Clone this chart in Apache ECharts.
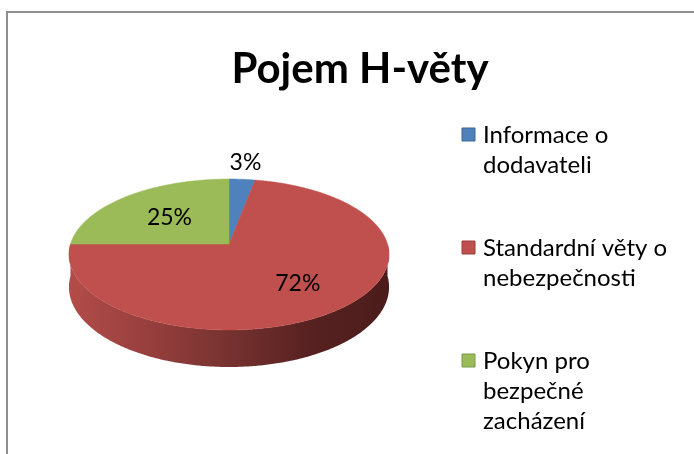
<!DOCTYPE html>
<html>
<head>
<meta charset="utf-8">
<script src="https://cdn.jsdelivr.net/npm/echarts@6/dist/echarts.min.js"></script>
<style>
  html, body { margin: 0; padding: 0; background: #fff; }
  #chart { width: 694px; height: 454px; }
</style>
</head>
<body>
<div id="chart"></div>
<script>
// data
const categories = ['Informace o\ndodavateli', 'Standardní věty o\nnebezpečnosti', 'Pokyn pro\nbezpečné\nzacházení']
const values = [3, 72, 25]
const colors = ['#4f81bd', '#c0504d', '#9bbb59']
const borders = ['#3d6694', '#9a3d3a', '#7a9645']

const FONT = 'Lato'

// 3d pie geometry (perspective-ish projection of a disk)
const cx = 229, cy = 244
const RX = 158.5, RY = 74, K = -0.139, DEPTH = 31.9
const total = values.reduce((a, b) => a + b, 0)

function proj(theta, r, h) {
  const u = r * Math.cos(theta)
  const v = r * Math.sin(theta)
  const w = 1 + K * v
  return [cx + RX * u / w, cy + (RY * v + DEPTH * h) / w]
}

function arc(a1, a2, r, h) {
  const pts = []
  const n = Math.max(2, Math.ceil(Math.abs(a2 - a1) / 0.01))
  for (let i = 0; i <= n; i++) pts.push(proj(a1 + (a2 - a1) * i / n, r, h))
  return pts
}

const sideFill = new echarts.graphic.LinearGradient(cx - RX, 0, cx + RX, 0, [
  { offset: 0, color: '#b24c49' },
  { offset: 0.25, color: '#963f3d' },
  { offset: 0.5, color: '#763230' },
  { offset: 0.75, color: '#572221' },
  { offset: 1, color: '#4b1c1b' }
], true)

function renderSlice(params, api) {
  const i = params.dataIndex
  let before = 0
  for (let j = 0; j < i; j++) before += values[j]
  const v = api.value(0)
  const a1 = -Math.PI / 2 + before / total * Math.PI * 2
  const a2 = a1 + v / total * Math.PI * 2
  const children = []

  // front wall
  const s1 = Math.max(a1, 0), s2 = Math.min(a2, Math.PI)
  if (s2 > s1) {
    const top = arc(s1, s2, 1, 0)
    const bot = arc(s2, s1, 1, 1)
    children.push({
      type: 'polygon', z2: 1,
      shape: { points: top.concat(bot) },
      style: { fill: i === 1 ? sideFill : colors[i] }
    })
  }
  // top face
  children.push({
    type: 'polygon', z2: 10,
    shape: { points: [proj(0, 0, 0)].concat(arc(a1, a2, 1, 0)) },
    style: { fill: colors[i], stroke: colors[i], lineWidth: 0.5 }
  })
  // label
  const mid = (a1 + a2) / 2
  const share = v / total
  const p = share < 0.1 ? proj(mid, 1.3, 0) : proj(mid, 0.6, 0.1)
  children.push({
    type: 'text', z2: 20,
    x: share < 0.1 ? p[0] : p[0] + 4, y: p[1],
    style: {
      text: Math.round(share * 100) + '%',
      fontFamily: FONT, fontSize: 23, fill: '#000',
      align: 'center', verticalAlign: 'middle'
    }
  })
  return { type: 'group', children }
}

// legend built from categories
const legendItems = []
let ly = 135
categories.forEach((name, i) => {
  legendItems.push({
    type: 'rect',
    shape: { x: 462, y: ly - 7, width: 13, height: 13 },
    style: { fill: colors[i], stroke: borders[i], lineWidth: 1 }
  })
  legendItems.push({
    type: 'text', x: 483, y: ly - 15,
    style: {
      text: name, fontFamily: FONT, fontSize: 24, lineHeight: 30,
      fill: '#000', verticalAlign: 'top'
    }
  })
  ly += name.split('\n').length * 30 + 53
})

const chart = echarts.init(document.getElementById('chart'), null, { renderer: 'canvas' })
chart.setOption({
  animation: false,
  title: {
    text: 'Pojem H-věty',
    left: 355, top: 43, textAlign: 'center',
    textStyle: { fontFamily: FONT, fontSize: 42, fontWeight: 'bold', color: '#000' }
  },
  graphic: [
    {
      type: 'rect', z: -1,
      shape: { x: 7, y: 12, width: 720, height: 480 },
      style: { fill: '#fff', stroke: '#8f8f8f', lineWidth: 2 }
    }
  ].concat(legendItems),
  series: [{
    type: 'custom',
    coordinateSystem: 'none',
    renderItem: renderSlice,
    data: values
  }]
})
</script>
</body>
</html>
